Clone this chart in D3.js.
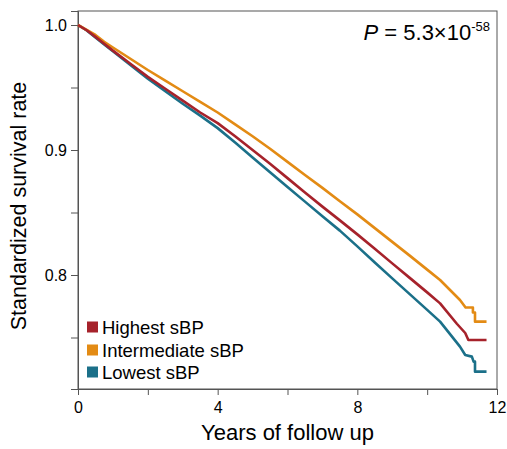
<!DOCTYPE html>
<html><head><meta charset="utf-8">
<script src="https://cdn.jsdelivr.net/npm/d3@7"></script>
<style>body{margin:0;background:#fff}svg{display:block}text{font-family:"Liberation Sans",Arial,sans-serif}</style>
</head><body><div id="chart"></div>
<script>
const seriesNames = ["Highest sBP", "Intermediate sBP", "Lowest sBP"];
const seriesColors = ["#A6222B", "#E38B14", "#1B7089"];
const highestYears = [0, 0.25, 0.5, 0.75, 1, 1.5, 2, 2.5, 3, 3.5, 4, 4.5, 5, 5.5, 6, 6.5, 7, 7.5, 8, 8.5, 9, 9.5, 10, 10.37, 10.85, 11.09, 11.18, 11.7];
const highestRate  = [1.0, 0.9958, 0.9905, 0.985, 0.9795, 0.969, 0.9585, 0.949, 0.9395, 0.930, 0.9215, 0.911, 0.900, 0.889, 0.8775, 0.866, 0.8547, 0.8437, 0.8325, 0.821, 0.8093, 0.7977, 0.7861, 0.7773, 0.761, 0.7536, 0.748, 0.748];
const interYears = [0, 0.25, 0.5, 0.75, 1, 1.5, 2, 2.5, 3, 3.5, 4, 4.5, 5, 5.5, 6, 6.5, 7, 7.5, 8, 8.5, 9, 9.5, 10, 10.37, 10.94, 11.1, 11.31, 11.31, 11.37, 11.37, 11.7];
const interRate  = [1.0, 0.996, 0.992, 0.9865, 0.982, 0.973, 0.964, 0.9555, 0.947, 0.9385, 0.930, 0.9205, 0.911, 0.901, 0.8905, 0.880, 0.8697, 0.859, 0.8485, 0.8375, 0.8265, 0.8155, 0.8043, 0.796, 0.780, 0.774, 0.774, 0.770, 0.770, 0.7627, 0.7627];
const lowestYears = [0, 0.25, 0.5, 0.75, 1, 1.5, 2, 2.5, 3, 3.5, 4, 4.5, 5, 5.5, 6, 6.5, 7, 7.5, 8, 8.5, 9, 9.5, 10, 10.37, 10.94, 11.09, 11.28, 11.33, 11.37, 11.37, 11.7];
const lowestRate  = [1.0, 0.9957, 0.990, 0.9845, 0.979, 0.968, 0.957, 0.947, 0.937, 0.9275, 0.9175, 0.906, 0.894, 0.8822, 0.8704, 0.8587, 0.847, 0.8355, 0.8229, 0.810, 0.7973, 0.7847, 0.7721, 0.7627, 0.7427, 0.736, 0.7347, 0.7307, 0.7307, 0.7227, 0.7227];
const xTicks = [0, 2, 4, 6, 8, 10, 12];
const xLabels = ["0", "", "4", "", "8", "", "12"];
const yTicks = [0.75, 0.8, 0.85, 0.9, 0.95, 1.0];
const yLabels = ["", "0.8", "", "0.9", "", "1.0"];
const pLabel = {italic: "P", main: " = 5.3\u00d710", sup: "-58"};

const W = 507, H = 449;
const L = 78, R = 497, T = 11, B = 389;
const svg = d3.select("#chart").append("svg").attr("width", W).attr("height", H);

const x = d3.scaleLinear().domain([0, 12]).range([L, R]);
const y = d3.scaleLinear().domain([0.7088, 1.0112]).range([B, T]);

const axisColor = "#555";

// x axis
const xAxis = d3.axisBottom(x).tickValues(xTicks).tickSize(6).tickFormat((d, i) => xLabels[i]);
const gx = svg.append("g").attr("transform", `translate(0,${B})`).call(xAxis);
gx.select(".domain").attr("stroke", axisColor);
gx.selectAll(".tick line").attr("stroke", axisColor);
gx.selectAll(".tick text").attr("font-size", 16).attr("fill", "#000").attr("dy", "0.95em");

// y axis
const yAxis = d3.axisLeft(y).tickValues(yTicks).tickSize(7).tickFormat((d, i) => yLabels[i]);
const gy = svg.append("g").attr("transform", `translate(${L},0)`).call(yAxis);
gy.select(".domain").attr("stroke", axisColor);
gy.selectAll(".tick line").attr("stroke", axisColor);
gy.selectAll(".tick text").attr("font-size", 16).attr("fill", "#000").attr("x", -11);

// box
svg.append("rect").attr("x", L).attr("y", T).attr("width", R - L).attr("height", B - T)
  .attr("fill", "none").attr("stroke", axisColor).attr("stroke-width", 1);

// curves
const series = [
  {years: lowestYears, rate: lowestRate, color: seriesColors[2]},
  {years: interYears, rate: interRate, color: seriesColors[1]},
  {years: highestYears, rate: highestRate, color: seriesColors[0]}
];
const line = d3.line().x(d => x(d[0])).y(d => y(d[1]));
series.forEach(s => {
  svg.append("path").datum(s.years.map((v, i) => [v, s.rate[i]]))
    .attr("d", line).attr("fill", "none").attr("stroke", s.color)
    .attr("stroke-width", 2.6).attr("stroke-linejoin", "round");
});

// titles
svg.append("text").attr("x", (L + R) / 2).attr("y", 440).attr("text-anchor", "middle")
  .attr("font-size", 22).attr("fill", "#000").text("Years of follow up");
svg.append("text").attr("transform", `translate(26,206) rotate(-90)`)
  .attr("text-anchor", "middle").attr("font-size", 21.5).attr("fill", "#000").text("Standardized survival rate");

// P value
const pt = svg.append("text").attr("x", 490).attr("y", 40).attr("text-anchor", "end")
  .attr("font-size", 22).attr("fill", "#000");
pt.append("tspan").attr("font-style", "italic").text(pLabel.italic);
pt.append("tspan").text(pLabel.main);
pt.append("tspan").attr("font-size", 13).attr("dy", -9).text(pLabel.sup);

// legend
const legY = [327, 350, 372];
seriesNames.forEach((n, i) => {
  svg.append("rect").attr("x", 87).attr("y", legY[i] - 5.5).attr("width", 11).attr("height", 11)
    .attr("fill", seriesColors[i]);
  svg.append("text").attr("x", 102).attr("y", legY[i] + 6.5).attr("font-size", 18.5)
    .attr("fill", "#000").text(n);
});
</script></body></html>
